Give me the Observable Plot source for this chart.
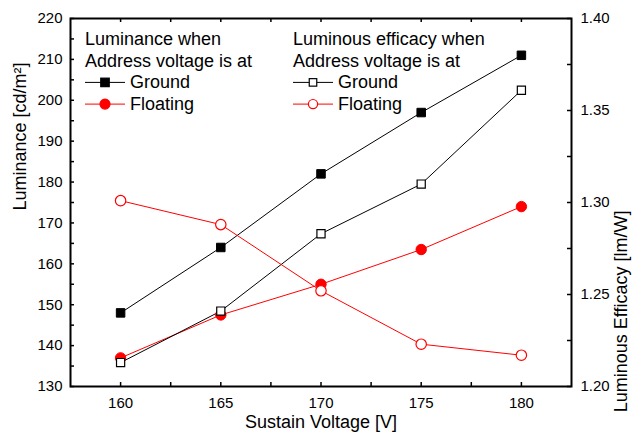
<!DOCTYPE html>
<html><head><meta charset="utf-8">
<script src="https://cdn.jsdelivr.net/npm/d3@7"></script>
<script src="https://cdn.jsdelivr.net/npm/@observablehq/plot@0.6"></script>
<style>
body{margin:0;background:#fff;}
#wrap{position:relative;width:633px;height:439px;font-family:"Liberation Sans",Arial,sans-serif;}
#legend{position:absolute;left:0;top:0;pointer-events:none;}
</style></head><body><div id="wrap"></div>
<script>
// ---- data ----
const voltage = [160, 165, 170, 175, 180];
const lumGround = [148, 164, 182, 197, 211];
const lumFloating = [137, 147.5, 155, 163.5, 174];
const effGround = [1.213, 1.241, 1.283, 1.310, 1.361];
const effFloating = [1.301, 1.288, 1.252, 1.223, 1.217];
const xTicks = [160, 165, 170, 175, 180];
const xMinorTicks = [162.5, 167.5, 172.5, 177.5];
const lumTicks = [130, 140, 150, 160, 170, 180, 190, 200, 210, 220];
const lumMinorTicks = [135, 145, 155, 165, 175, 185, 195, 205, 215];
const effTicks = [1.20, 1.25, 1.30, 1.35, 1.40];
const effMinorTicks = [1.225, 1.275, 1.325, 1.375];

// map right-axis (efficacy) domain onto left-axis (luminance) domain
const lumDomain = [130, 220], effDomain = [1.20, 1.40];
const effToLum = e => lumDomain[0] + (e - effDomain[0]) / (effDomain[1] - effDomain[0]) * (lumDomain[1] - lumDomain[0]);
const lumToEff = l => effDomain[0] + (l - lumDomain[0]) / (lumDomain[1] - lumDomain[0]) * (effDomain[1] - effDomain[0]);

const rows = (ys, mapY = d => d) => voltage.map((v, i) => ({x: v, y: mapY(ys[i])}));

const W = 633, H = 439, mL = 70, mR = 62, mT = 18, mB = 53;
const innerW = W - mL - mR, innerH = H - mT - mB, tick = 4;
const font = '"Liberation Sans", Arial, sans-serif';
const titleSize = 18;

const plot = Plot.plot({
  width: W, height: H,
  marginLeft: mL, marginRight: mR, marginTop: mT, marginBottom: mB,
  style: {fontFamily: font, fontSize: "15px", color: "#000", background: "#fff", overflow: "visible"},
  x: {domain: [157.5, 182.5]},
  y: {domain: lumDomain},
  marks: [
    Plot.axisX(xTicks, {tickSize: 0, tickPadding: 11, label: null, fontSize: 15}),
    Plot.axisY(lumTicks, {anchor: "left", tickSize: 0, tickPadding: 8, label: null, fontSize: 15}),
    Plot.axisY(effTicks.map(effToLum), {anchor: "right", tickSize: 0, tickPadding: 9, label: null, fontSize: 15,
      tickFormat: d => lumToEff(d).toFixed(2)}),
    // inward tick marks
    Plot.tickX([...xTicks, ...xMinorTicks], {x: d => d, insetTop: innerH - tick, strokeWidth: 1.5}),
    Plot.tickX([...xTicks, ...xMinorTicks], {x: d => d, insetBottom: innerH - tick, strokeWidth: 1.5}),
    Plot.tickY([...lumTicks, ...lumMinorTicks], {y: d => d, insetRight: innerW - tick, strokeWidth: 1.5}),
    Plot.tickY([...effTicks, ...effMinorTicks].map(effToLum), {y: d => d, insetLeft: innerW - tick, strokeWidth: 1.5}),
    Plot.frame({stroke: "#000", strokeWidth: 2}),
    // axis titles
    Plot.text(["Sustain Voltage [V]"], {text: d => d, frameAnchor: "bottom", dy: 41, fontSize: titleSize}),
    Plot.text(["Luminance [cd/m²]"], {text: d => d, frameAnchor: "left", rotate: -90, dx: -50, dy: 8, fontSize: titleSize}),
    Plot.text(["Luminous Efficacy [lm/W]"], {text: d => d, frameAnchor: "right", rotate: -90, dx: 50, dy: 8, fontSize: titleSize}),
    // series
    Plot.line(rows(lumGround), {x: "x", y: "y", stroke: "#000", strokeWidth: 1}),
    Plot.line(rows(lumFloating), {x: "x", y: "y", stroke: "#ff0000", strokeWidth: 1}),
    Plot.line(rows(effGround, effToLum), {x: "x", y: "y", stroke: "#000", strokeWidth: 1}),
    Plot.line(rows(effFloating, effToLum), {x: "x", y: "y", stroke: "#ff0000", strokeWidth: 1}),
    Plot.dot(rows(lumGround), {x: "x", y: "y", symbol: "square", r: 4.8, fill: "#000", stroke: "#000", strokeWidth: 1}),
    Plot.dot(rows(lumFloating), {x: "x", y: "y", symbol: "circle", r: 5.2, fill: "#ff0000", stroke: "#ff0000", strokeWidth: 1}),
    Plot.dot(rows(effGround, effToLum), {x: "x", y: "y", symbol: "square", r: 4.6, fill: "#fff", stroke: "#000", strokeWidth: 1.2}),
    Plot.dot(rows(effFloating, effToLum), {x: "x", y: "y", symbol: "circle", r: 5.2, fill: "#fff", stroke: "#ff0000", strokeWidth: 1.2})
  ]
});

const wrap = document.getElementById("wrap");
wrap.appendChild(plot);

// ---- legend overlay ----
const legendBlocks = [
  {x: 85, title: ["Luminance when", "Address voltage is at"],
   items: [{label: "Ground", color: "#000", shape: "square", fill: "#000"},
           {label: "Floating", color: "#ff0000", shape: "circle", fill: "#ff0000"}]},
  {x: 293, title: ["Luminous efficacy when", "Address voltage is at"],
   items: [{label: "Ground", color: "#000", shape: "square", fill: "#fff"},
           {label: "Floating", color: "#ff0000", shape: "circle", fill: "#fff"}]}
];
const lg = d3.select(wrap).append("svg").attr("id", "legend").attr("width", W).attr("height", H)
  .attr("font-family", font).attr("font-size", titleSize);
const lineH = 21.7, base0 = 45;
for (const b of legendBlocks) {
  b.title.forEach((t, i) => lg.append("text").attr("x", b.x).attr("y", base0 + i * lineH).text(t));
  b.items.forEach((it, j) => {
    const by = base0 + (2 + j) * lineH;
    const ly = by - 6;
    lg.append("line").attr("x1", b.x).attr("x2", b.x + 40).attr("y1", ly).attr("y2", ly)
      .attr("stroke", it.color).attr("stroke-width", 1);
    if (it.shape === "square") {
      const s = it.fill === "#fff" ? 7.5 : 8.5;
      lg.append("rect").attr("x", b.x + 20 - s / 2).attr("y", ly - s / 2).attr("width", s).attr("height", s)
        .attr("fill", it.fill).attr("stroke", it.color).attr("stroke-width", 1.2);
    } else {
      lg.append("circle").attr("cx", b.x + 20).attr("cy", ly).attr("r", it.fill === "#fff" ? 4.6 : 5)
        .attr("fill", it.fill).attr("stroke", it.color).attr("stroke-width", 1.2);
    }
    lg.append("text").attr("x", b.x + 45).attr("y", by).text(it.label);
  });
}
</script>
</body></html>
